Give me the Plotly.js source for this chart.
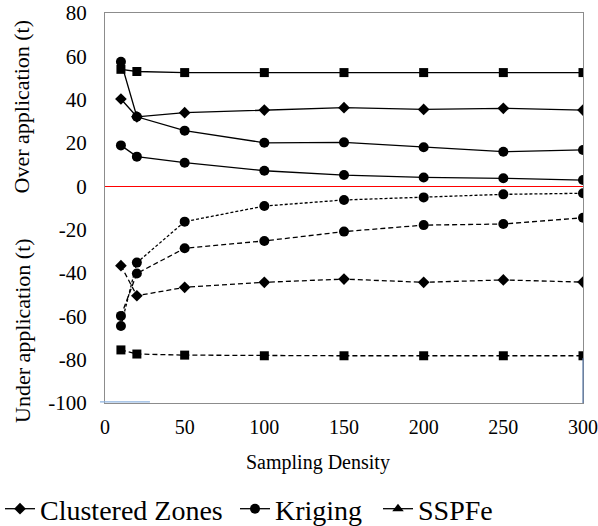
<!DOCTYPE html>
<html>
<head>
<meta charset="utf-8">
<script src="https://cdn.plot.ly/plotly-3.0.1.min.js"></script>
<style>
html,body{margin:0;padding:0;background:#fff}
#chart{width:598px;height:526px}
</style>
</head>
<body>
<div id="chart"></div>
<script>
// Sampling density (x values)
const density = [10, 20, 50, 100, 150, 200, 250, 300];

// Over application (solid lines)
const squareOver   = [54, 53, 52.5, 52.5, 52.5, 52.5, 52.5, 52.5];
const diamondOver  = [40.3, 32.1, 34, 35.2, 36.3, 35.5, 36, 35.2];
const circleOverA  = [57.5, 32.1, 25.7, 20.1, 20.3, 18, 16, 16.8];
const circleOverB  = [18.9, 13.7, 10.9, 7.2, 5.2, 4.1, 3.7, 2.9];

// Under application (dashed lines)
const circleUnderA = [-64.5, -35.2, -16.3, -9.1, -6.3, -5.1, -3.7, -3.2];
const circleUnderB = [-59.8, -40.2, -28.6, -25.2, -20.9, -17.9, -17.4, -14.5];
const diamondUnder = [-36.6, -50.5, -46.6, -44.3, -42.8, -44.3, -43.2, -44.2];
const squareUnder  = [-75.5, -77.4, -77.9, -78.2, -78.2, -78.2, -78.2, -78.2];

const legendNames = ['Clustered Zones', 'Kriging', 'SSPFe'];
const yTitles = ['Over application (t)', 'Under application (t)'];
const xTitle = 'Sampling Density';
const yTicks = [-100, -80, -60, -40, -20, 0, 20, 40, 60, 80];
const xTicks = [0, 50, 100, 150, 200, 250, 300];

const serif = 'Liberation Serif';

function tr(y, sym, size, dash, name, legendId) {
  const t = {
    x: density, y: y, type: 'scatter', mode: 'lines+markers',
    name: name || '', showlegend: !!legendId,
    line: {color: '#000', width: 1.3, dash: dash},
    marker: {symbol: sym, size: size, color: '#000'}
  };
  if (legendId) t.legend = legendId;
  return t;
}

const data = [
  tr(diamondOver, 'diamond', 9, 'solid', legendNames[0], 'legend'),
  tr(circleOverA, 'circle', 10, 'solid', legendNames[1], 'legend2'),
  {x: [null], y: [null], type: 'scatter', mode: 'lines+markers', name: legendNames[2],
   showlegend: true, legend: 'legend3',
   line: {color: '#000', width: 1.3}, marker: {symbol: 'triangle-up', size: 10, color: '#000'}},
  tr(squareOver, 'square', 9, 'solid'),
  tr(circleOverB, 'circle', 10, 'solid'),
  tr(circleUnderA, 'circle', 10, '3px,2px'),
  tr(circleUnderB, 'circle', 10, '5px,3px'),
  tr(diamondUnder, 'diamond', 9, '5px,3px'),
  tr(squareUnder, 'square', 9, '5px,3px')
];

function leg(xpx) {
  return {
    orientation: 'h', xref: 'container', yref: 'container', x: xpx / 598, y: 1 - 509 / 526,
    xanchor: 'left', yanchor: 'middle', bgcolor: 'rgba(0,0,0,0)',
    font: {family: serif, size: 28, color: '#000'}, itemwidth: 30
  };
}

const layout = {
  width: 598, height: 526,
  margin: {l: 105, r: 15, t: 13, b: 123, autoexpand: false},
  paper_bgcolor: '#fff', plot_bgcolor: '#fff',
  font: {family: serif, color: '#000', size: 18},
  xaxis: {
    range: [0, 300], tickvals: xTicks, ticktext: xTicks.map(String),
    showgrid: false, zeroline: false, showline: true, mirror: true,
    linecolor: '#8c8c8c', linewidth: 1, ticks: '',
    tickfont: {family: serif, size: 20, color: '#000'}, ticklabelstandoff: 6
  },
  yaxis: {
    range: [-100, 80], tickvals: yTicks, ticktext: yTicks.map(String),
    showgrid: false, zeroline: true, zerolinecolor: '#ff0000', zerolinewidth: 1,
    showline: true, mirror: true, linecolor: '#8c8c8c', linewidth: 1, ticks: '',
    tickfont: {family: serif, size: 21, color: '#000'}, ticklabelstandoff: 13
  },
  shapes: [
    {type: 'line', xref: 'paper', yref: 'paper', x0: -0.0105, x1: 0.094, y0: 0.003, y1: 0.003,
     line: {color: '#8fb4e0', width: 1.2}},
    {type: 'line', xref: 'paper', yref: 'paper', x0: 1, x1: 1, y0: 0, y1: 0.115,
     line: {color: '#5a7aa8', width: 1.2}}
  ],
  annotations: [
    {text: yTitles[0], xref: 'paper', yref: 'paper', x: -0.174, y: 0.760,
     xanchor: 'center', yanchor: 'middle',
     textangle: -90, showarrow: false, font: {family: serif, size: 22, color: '#000'}},
    {text: yTitles[1], xref: 'paper', yref: 'paper', x: -0.174, y: 0.187,
     xanchor: 'center', yanchor: 'middle',
     textangle: -90, showarrow: false, font: {family: serif, size: 22, color: '#000'}},
    {text: xTitle, xref: 'paper', yref: 'paper', x: 0.446, y: -0.153,
     xanchor: 'center', yanchor: 'middle', showarrow: false,
     font: {family: serif, size: 20, color: '#000'}}
  ],
  legend: leg(0),
  legend2: leg(235),
  legend3: leg(378),
  showlegend: true
};

Plotly.newPlot('chart', data, layout, {displayModeBar: false, staticPlot: true});
</script>
</body>
</html>
